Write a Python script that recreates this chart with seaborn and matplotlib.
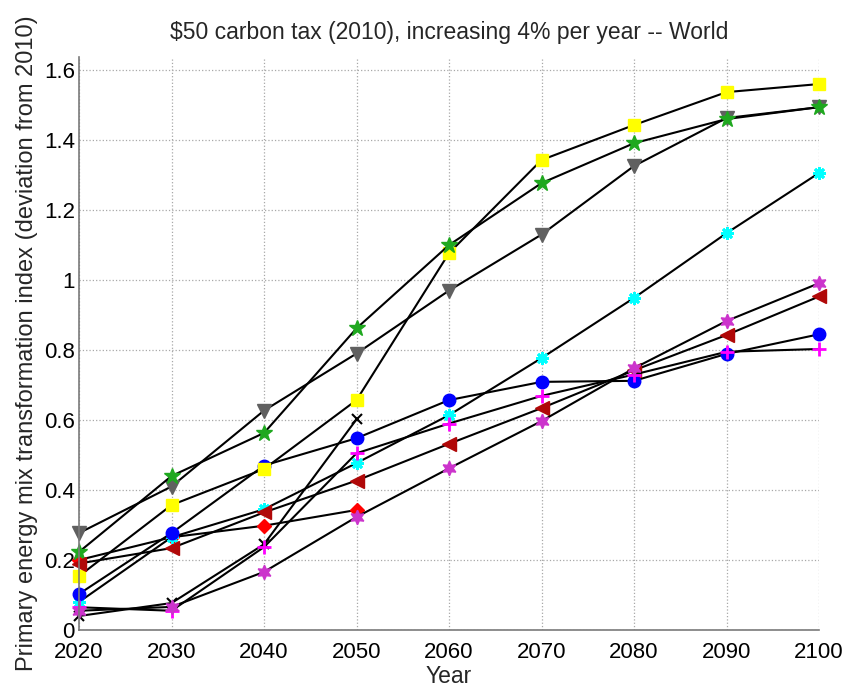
import matplotlib
matplotlib.use("Agg")
import matplotlib.pyplot as plt
import seaborn as sns
import pandas as pd
from matplotlib.ticker import FuncFormatter

years = [2020, 2030, 2040, 2050, 2060, 2070, 2080, 2090, 2100]
years_short = [2020, 2030, 2040, 2050]

cyan_ast = [0.08, 0.265, 0.345, 0.477, 0.614, 0.777, 0.949, 1.134, 1.306]
blue_circle = [0.103, 0.277, 0.47, 0.548, 0.657, 0.709, 0.712, 0.789, 0.845]
gray_tri = [0.277, 0.41, 0.627, 0.79, 0.97, 1.13, 1.326, 1.463, 1.494]
yellow_sq = [0.154, 0.357, 0.46, 0.657, 1.077, 1.343, 1.443, 1.537, 1.56]
green_star = [0.223, 0.44, 0.563, 0.862, 1.10, 1.277, 1.391, 1.46, 1.494]
red_diamond = [0.2, 0.265, 0.298, 0.343]
darkred_tri = [0.19, 0.234, 0.336, 0.427, 0.532, 0.634, 0.742, 0.843, 0.953]
black_x = [0.04, 0.077, 0.245, 0.602]
magenta_plus = [0.065, 0.055, 0.237, 0.505, 0.59, 0.669, 0.73, 0.795, 0.803]
purple_hex = [0.055, 0.066, 0.166, 0.323, 0.462, 0.597, 0.748, 0.883, 0.991]

title = "\\$50 carbon tax (2010), increasing 4% per year -- World"
xlabel = "Year"
ylabel = "Primary energy mix transformation index (deviation from 2010)"

sns.set_style("white")
plt.rcParams['font.family'] = ['Liberation Sans', 'DejaVu Sans']

fig = plt.figure(figsize=(8.55, 6.88), dpi=100)
ax = fig.add_axes([0.0924, 0.0843, 0.8656, 0.8327])

series = [
    (years_short, red_diamond, 'D', '#ff0000', 7.5, 1.0),
    (years, cyan_ast, (8, 2, 0), '#00ffff', 9, 2.0),
    (years, blue_circle, 'o', '#0000ff', 9, 1.0),
    (years, gray_tri, 'v', '#606060', 9.5, 1.0),
    (years, yellow_sq, 's', '#ffff00', 8.5, 1.0),
    (years, green_star, '*', '#1fa81f', 12, 1.0),
    (years, darkred_tri, '<', '#b00808', 9.5, 1.0),
    (years_short, black_x, 'x', '#000000', 7, 1.5),
    (years, magenta_plus, '+', '#ff00ff', 10, 2.0),
    (years, purple_hex, (6, 1, 0), '#cc33cc', 10.5, 1.0),
]

for xs, ys, mk, col, ms, mew in series:
    df = pd.DataFrame({"Year": xs, "Value": ys})
    sns.lineplot(data=df, x="Year", y="Value", ax=ax, color='black', lw=1.5,
                 marker=mk, markersize=ms, markerfacecolor=col,
                 markeredgecolor=col, markeredgewidth=mew, estimator=None,
                 sort=False, clip_on=False)

ax.set_xlim(2020, 2100)
ax.set_ylim(0, 1.637)
ax.set_xticks(years)
ax.set_yticks([0, 0.2, 0.4, 0.6, 0.8, 1.0, 1.2, 1.4, 1.6])
ax.yaxis.set_major_formatter(FuncFormatter(lambda v, p: "%g" % round(v, 2)))
ax.grid(True, linestyle=':', color='#a8a8a8', linewidth=0.9)
ax.tick_params(direction='in', length=5, width=0.8, labelsize=16,
               colors='black')
ax.tick_params(axis='x', pad=8.5)
ax.tick_params(axis='y', pad=3)
for s in ['top', 'right']:
    ax.spines[s].set_visible(False)
for s in ['left', 'bottom']:
    ax.spines[s].set_color('#7a7a7a')
    ax.spines[s].set_linewidth(1.2)

ax.set_title(title, fontsize=16.5, pad=13)
ax.set_xlabel(xlabel, fontsize=16.5, labelpad=1.5)
ax.set_ylabel(ylabel, fontsize=17, labelpad=4)

fig.savefig("out.png", dpi=100)
